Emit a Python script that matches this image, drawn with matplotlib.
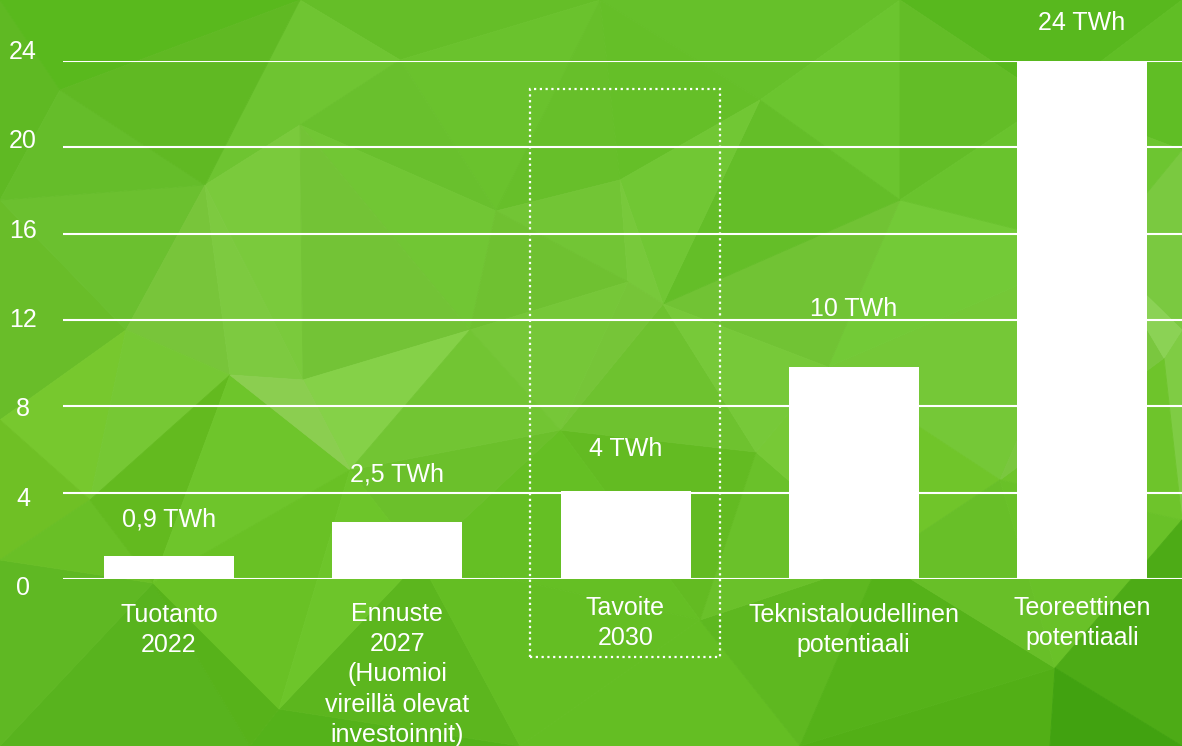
import numpy as np
import matplotlib
matplotlib.use("Agg")
import matplotlib.pyplot as plt
from matplotlib.collections import PolyCollection
from matplotlib.patches import Rectangle
import matplotlib.tri as mtri

plt.rcParams['font.family'] = ['Liberation Sans', 'DejaVu Sans']

# ---------------- data ----------------
categories = [
    ["Tuotanto", "2022"],
    ["Ennuste", "2027", "(Huomioi", "vireillä olevat", "investoinnit)"],
    ["Tavoite", "2030"],
    ["Teknistaloudellinen", "potentiaali"],
    ["Teoreettinen", "potentiaali"],
]
bar_values = [1.07, 2.66, 4.08, 9.81, 24.0]
value_labels = ["0,9 TWh", "2,5 TWh", "4 TWh", "10 TWh", "24 TWh"]
y_ticks = [0, 4, 8, 12, 16, 20, 24]

# ---------------- layout / style ----------------
W, H = 1182, 746
AX_L, AX_R, AX_T, AX_B = 63, 1182, 61, 579   # pixel frame of the plot area
YMAX = 24
PX_PER_UNIT = (AX_B - AX_T) / YMAX
BAR_C0, BAR_STEP = 169, 228.25
label_gap_px = [29, 40, 35, 51, 31]          # gap bar top -> label baseline
cat_baseline_px = [622, 621, 615, 622, 615]  # first line baseline of category labels
CAT_LINE_STEP = 30.2
FS = 18
WHITE = "white"


def py2data(py):
    return (AX_B - py) / PX_PER_UNIT


fig = plt.figure(figsize=(W / 100, H / 100), dpi=100)

# ---------------- low-poly green background ----------------
bg = fig.add_axes([0, 0, 1, 1])
bg.set_xlim(0, W)
bg.set_ylim(H, 0)
bg.axis("off")
verts = np.array([
    (0, 0), (300, 0), (600, 0), (900, 0), (1182, 0),
    (0, 200), (0, 420), (0, 560), (0, 746),
    (250, 746), (520, 746), (800, 746), (1050, 746), (1182, 746),
    (1182, 150), (1182, 330), (1182, 520),
    (126, 330), (205, 185), (300, 125), (230, 375), (303, 380), (496, 211),
    (628, 282), (663, 304), (828, 367), (756, 452), (1164, 358), (279, 709),
    (153, 583), (1055, 668), (420, 560), (560, 430), (900, 200), (1000, 480),
    (700, 620), (880, 560), (400, 60), (760, 100), (1050, 100), (90, 500),
    (470, 330), (620, 180), (1100, 250), (350, 470), (60, 90),
], dtype=float)
anchors = np.array([
    (100, 0), (600, 0), (1100, 0), (50, 200), (300, 380), (200, 300),
    (600, 300), (850, 370), (1160, 340), (50, 450), (200, 500), (290, 520),
    (600, 500), (900, 480), (1150, 500), (50, 720), (300, 730), (600, 700),
    (900, 700), (1130, 730), (450, 180), (1000, 220), (800, 150),
], dtype=float)
anchor_cols = np.array([
    (84, 181, 24), (86, 182, 26), (82, 180, 24), (100, 188, 42), (150, 214, 92),
    (122, 199, 60), (122, 200, 60), (136, 210, 76), (144, 213, 90), (118, 198, 42),
    (96, 186, 28), (114, 204, 42), (100, 190, 34), (110, 195, 40), (100, 190, 30),
    (84, 176, 30), (74, 170, 18), (92, 184, 26), (84, 178, 24), (62, 160, 14),
    (108, 195, 48), (106, 197, 46), (100, 192, 40),
], dtype=float) / 255.0

tri = mtri.Triangulation(verts[:, 0], verts[:, 1])
polys, cols = [], []
for i, t in enumerate(tri.triangles):
    pts = verts[t]
    c = pts.mean(axis=0)
    d = np.hypot(anchors[:, 0] - c[0], anchors[:, 1] - c[1]) + 1.0
    w = 1.0 / d ** 2.2
    col = (anchor_cols * w[:, None]).sum(axis=0) / w.sum()
    shade = ((i * 37) % 7 - 3) * 0.006
    col = np.clip(col + shade, 0, 1)
    polys.append(pts)
    cols.append(col)
bg.add_collection(PolyCollection(polys, facecolors=cols, edgecolors=cols, linewidths=0.6))

# ---------------- main axes ----------------
ax = fig.add_axes([AX_L / W, (H - AX_B) / H, (AX_R - AX_L) / W, (AX_B - AX_T) / H])
ax.patch.set_alpha(0)
x = np.arange(len(bar_values))
ax.set_xlim((AX_L - BAR_C0) / BAR_STEP, (AX_R - BAR_C0) / BAR_STEP)
ax.set_ylim(0, YMAX)
for s in ax.spines.values():
    s.set_visible(False)
ax.set_xticks([])
ax.set_yticks([])

for v in y_ticks:
    ax.axhline(v, color=WHITE, lw=1.5, zorder=1)

ax.bar(x, bar_values, width=130 / BAR_STEP, color=WHITE, zorder=2)

# y tick labels (placed slightly apart from the gridlines as in the reference)
for k, v in enumerate(y_ticks):
    base_px = 595 - k * 89.33
    ax.text((23 - BAR_C0) / BAR_STEP, py2data(base_px), str(v), color=WHITE,
            fontsize=FS, ha="center", va="baseline", clip_on=False)

# value labels
for xi, v, lab, gap in zip(x, bar_values, value_labels, label_gap_px):
    top_px = AX_B - v * PX_PER_UNIT
    ax.text(xi, py2data(top_px - gap), lab, color=WHITE, fontsize=FS,
            ha="center", va="baseline", clip_on=False)

# category labels
for xi, lines, b0 in zip(x, categories, cat_baseline_px):
    for j, line in enumerate(lines):
        ax.text(xi, py2data(b0 + j * CAT_LINE_STEP), line, color=WHITE,
                fontsize=FS, ha="center", va="baseline", clip_on=False)

# dotted highlight box around the target
x0 = (530 - BAR_C0) / BAR_STEP
x1 = (720 - BAR_C0) / BAR_STEP
y0 = py2data(657)
y1 = py2data(89)
ax.add_patch(Rectangle((x0, y0), x1 - x0, y1 - y0, fill=False, edgecolor=WHITE,
                       lw=1.6, linestyle=(0, (1, 1.6)), clip_on=False, zorder=3))

fig.savefig("out.png", dpi=100)
